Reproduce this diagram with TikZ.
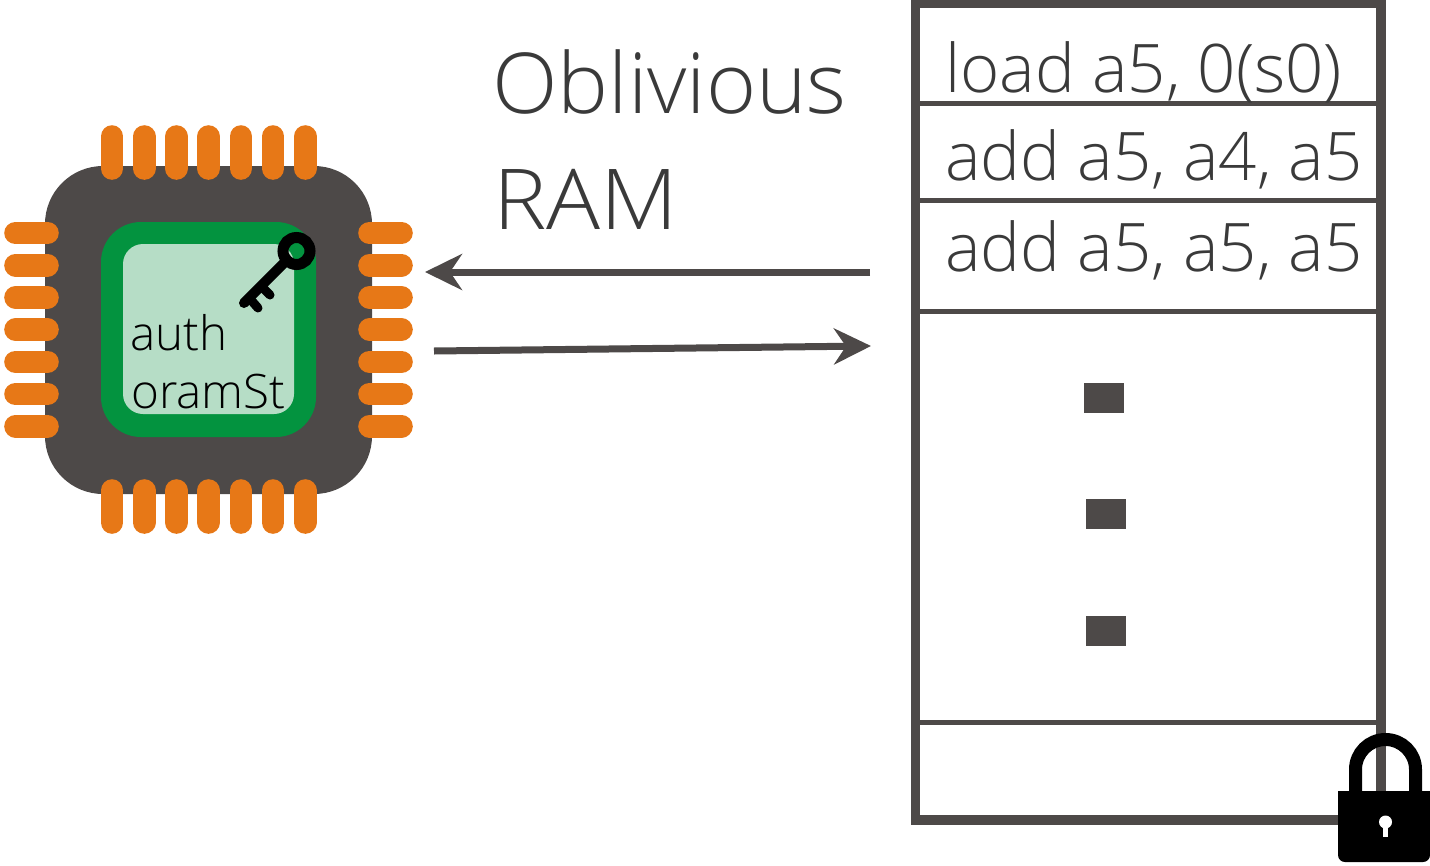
\documentclass[tikz,border=0pt]{standalone}
\usepackage{fontspec}
\setmainfont{Open Sans Light}
\usetikzlibrary{arrows.meta}
\definecolor{dk}{HTML}{4D4948}
\definecolor{org}{HTML}{E77817}
\definecolor{grn}{HTML}{03933F}
\definecolor{lgrn}{HTML}{B6DDC6}
\definecolor{txt}{HTML}{3A3A3A}
\tikzset{
  pin/.style={line width=22.6pt,line cap=round,draw=org},
  rowline/.style={line width=5pt,draw=dk},
  flow/.style={line width=7pt,draw=dk,-{Stealth[length=37pt,width=36pt,inset=12pt]},shorten >=-1pt},
  big/.style={anchor=base west,inner sep=0pt,text=txt,font=\fontsize{84}{84}\selectfont},
  code/.style={anchor=base west,inner sep=0pt,text=txt,font=\fontsize{67}{67}\selectfont},
  small/.style={anchor=base west,inner sep=0pt,text=black,font=\fontsize{47.5}{47.5}\selectfont},
  dotbox/.style={fill=dk,draw=none,minimum width=40pt,minimum height=30pt,inner sep=0pt},
}
\begin{document}
\begin{tikzpicture}[x=1pt,y=-1pt]
\useasboundingbox (0,0) rectangle (1430,865);
% chip
\fill[dk,rounded corners=58pt] (45,166) rectangle (372,494);
\foreach \x in {112,144.2,176.4,208.6,240.8,273,305.2}{
  \draw[pin] (\x,136.5) -- (\x,168.5);
  \draw[pin] (\x,490.5) -- (\x,522.5);
}
\foreach \y in {233,265.2,297.4,329.6,361.8,394,426.2}{
  \draw[pin] (15.5,\y) -- (47.5,\y);
  \draw[pin] (369.5,\y) -- (401.5,\y);
}
\fill[grn,rounded corners=40pt] (101,222) rectangle (316,437);
\fill[lgrn,rounded corners=20pt] (123,244) rectangle (294,414);
% key
\draw[black,line width=10pt,line cap=round] (287,260) -- (244,303);
\draw[black,line width=9pt,line cap=round] (251,300) -- (258,308);
\draw[black,line width=9pt,line cap=round] (263,288) -- (270,295);
\draw[black,line width=11pt] (296.5,251) circle (13.5pt);
% chip text
\node[small] (auth) at (130,350) {auth};
\node[small] (st) at (131,408) {oramSt};
% title
\node[big] (obl) at (492,113) {\scalebox{1.02}[1]{Oblivious}};
\node[big] (ram) at (493,229) {\scalebox{1.07}[1]{RAM}};
% memory
\draw[dk,line width=9.5pt] (915.5,3) rectangle (1381,820);
\coordinate (l1) at (915.5,103); \coordinate (r1) at (1381,103);
\coordinate (l2) at (915.5,200); \coordinate (r2) at (1381,200);
\coordinate (l3) at (915.5,311); \coordinate (r3) at (1381,311);
\coordinate (l4) at (915.5,722); \coordinate (r4) at (1381,722);
\draw[rowline] (l1) -- (r1);
\draw[rowline] (l2) -- (r2);
\draw[rowline] (l3) -- (r3);
\draw[rowline] (l4) -- (r4);
\node[code] (c1) at (945,92) {load a5, 0(s0)};
\node[code] (c2) at (945,180) {add a5, a4, a5};
\node[code] (c3) at (945,271) {add a5, a5, a5};
\node[dotbox] (d1) at (1104,397.5) {};
\node[dotbox] (d2) at (1106,514) {};
\node[dotbox] (d3) at (1106,631) {};
% arrows
\coordinate (a1s) at (870,272); \coordinate (a1e) at (426,272);
\coordinate (a2s) at (434,351); \coordinate (a2e) at (870,346);
\draw[flow] (a1s) -- (a1e);
\draw[flow] (a2s) -- (a2e);
% lock
\draw[black,line width=13pt] (1355.5,795) -- (1355.5,769.5) arc[start angle=180,end angle=0,x radius=30pt,y radius=30pt] -- (1415.5,795);
\fill[black] (1338,790.5) rectangle (1430,840);
\fill[black,rounded corners=7pt] (1338,820) -- (1338,862) -- (1430,862) -- (1430,820) -- cycle;
\fill[white] (1385.5,822) circle (6.5pt);
\fill[white] (1383,824) rectangle (1388,837);
\end{tikzpicture}
\end{document}
